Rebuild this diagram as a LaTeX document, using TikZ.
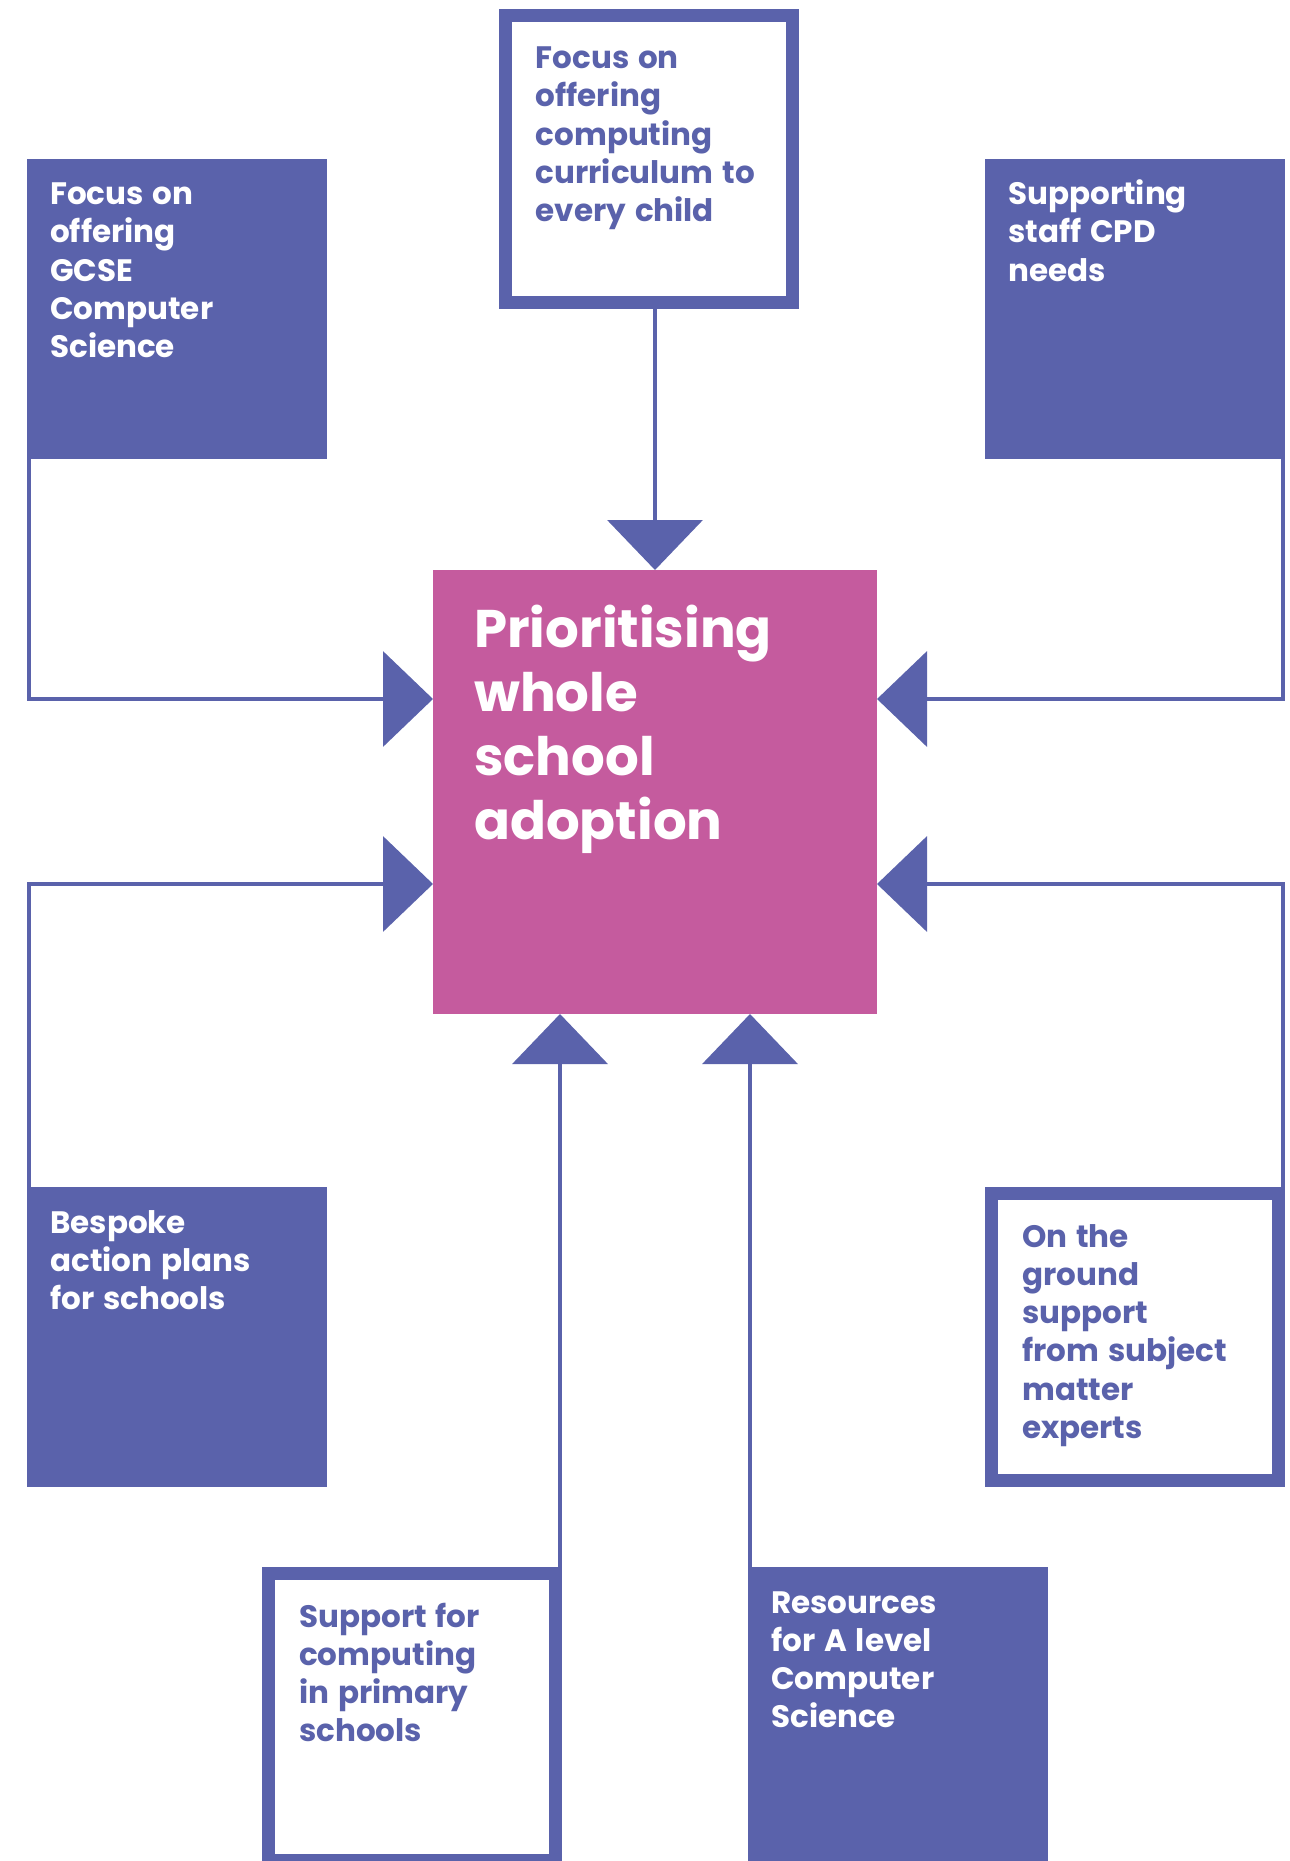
\documentclass[tikz,border=0pt]{standalone}
\usepackage{fontspec}
\setmainfont{Poppins}[WordSpace=1.35]
\usetikzlibrary{calc,arrows.meta}
\definecolor{ncblue}{RGB}{90,98,171}
\definecolor{ncpink}{RGB}{197,91,158}
\begin{document}
\begin{tikzpicture}[x=1pt,y=-1pt,
  solidbox/.style={fill=ncblue,draw=none,minimum size=300pt,inner sep=0pt,outer sep=0pt},
  framebox/.style={fill=white,draw=ncblue,line width=13pt,minimum size=287pt,inner sep=0pt},
  hubbox/.style={fill=ncpink,draw=none,minimum size=444pt,inner sep=0pt,outer sep=0pt},
  boxtext/.style={anchor=base west,inner sep=0pt,align=left,
    font=\fontsize{31pt}{38.25pt}\selectfont\bfseries},
  lighttext/.style={boxtext,text=white},
  darktext/.style={boxtext,text=ncblue},
  hubtext/.style={anchor=base west,inner sep=0pt,align=left,text=white,
    font=\fontsize{53pt}{64pt}\selectfont\bfseries},
  conn/.style={draw=ncblue,line width=4pt,
    -{Triangle[length=50pt,width=95pt]}},
]
\useasboundingbox (0,0) rectangle (1290,1861);

% central target
\node[hubbox] (hub) at (655,792) {};
% text nodes are anchored at the baseline of their last line
\node[hubtext] (hubt) at ($(hub.north west)+(41,269.5)$)
  {Prioritising\\whole\\school\\adoption};

% surrounding boxes (anchors lie on the outer edge)
\node[framebox] (tc) at (648.5,158.5) {};
\node[solidbox] (tl) at (177,308.5) {};
\node[solidbox] (tr) at (1135,308.5) {};
\node[solidbox] (bl) at (177,1337) {};
\node[framebox] (br) at (1135,1337) {};
\node[framebox] (bc1) at (412,1717) {};
\node[solidbox] (bc2) at (898,1717) {};

% box texts
\node[darktext] (tct) at ($(tc.north west)+(37,213)$)
  {Focus on\\offering\\computing\\curriculum to\\every child};
\node[lighttext] (tlt) at ($(tl.north west)+(23,199)$)
  {Focus on\\offering\\GCSE\\Computer\\Science};
\node[lighttext] (trt) at ($(tr.north west)+(23,122.5)$)
  {Supporting\\staff CPD\\needs};
\node[lighttext] (blt) at ($(bl.north west)+(23,122.5)$)
  {Bespoke\\action plans\\for schools};
\node[darktext] (brt) at ($(br.north west)+(37,251.25)$)
  {On the\\ground\\support\\from subject\\matter\\experts};
\node[darktext] (bc1t) at ($(bc1.north west)+(37,174.75)$)
  {Support for\\computing\\in primary\\schools};
\node[lighttext] (bc2t) at ($(bc2.north west)+(23,160.75)$)
  {Resources\\for A level\\Computer\\Science};

% connectors
\draw[conn] (hub.north |- tc.south) -- (hub.north);
\draw[conn] ([xshift=2pt]tl.south west) |- ($(hub.west)+(0,-93)$);
\draw[conn] ([xshift=-2pt]tr.south east) |- ($(hub.east)+(0,-93)$);
\draw[conn] ([xshift=2pt]bl.north west) |- ($(hub.west)+(0,92)$);
\draw[conn] ([xshift=-2pt]br.north east) |- ($(hub.east)+(0,92)$);
\draw[conn] ([xshift=-2pt]bc1.north east) -- ([xshift=-2pt]bc1.north east |- hub.south);
\draw[conn] ([xshift=2pt]bc2.north west) -- ([xshift=2pt]bc2.north west |- hub.south);
\end{tikzpicture}
\end{document}
